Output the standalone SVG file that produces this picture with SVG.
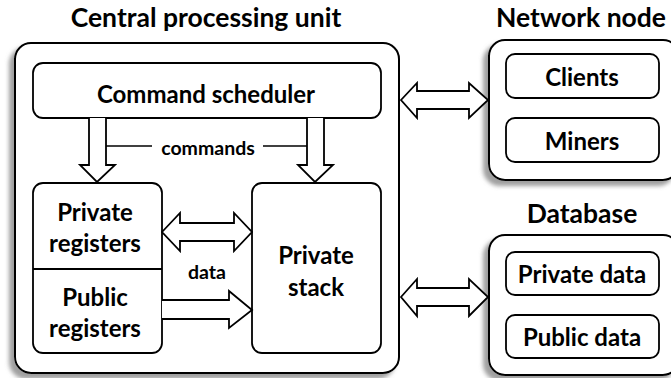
<svg xmlns="http://www.w3.org/2000/svg" width="671" height="378" viewBox="0 0 671 378">
<defs>
<filter id="sh" x="-10%" y="-10%" width="120%" height="125%">
<feDropShadow dx="-5" dy="5" stdDeviation="2" flood-color="#888" flood-opacity="0.8"/>
</filter>
</defs>
<style>
text{font-family:Lato,"Open Sans","Liberation Sans",sans-serif;font-weight:bold;fill:#000;text-anchor:middle;dominant-baseline:central}
.outer{fill:#fff;stroke:#000;stroke-width:2;filter:url(#sh)}
.box{fill:#fff;stroke:#000;stroke-width:1.8}
.arr{fill:#fff;stroke:#000;stroke-width:1.8;stroke-linejoin:miter}
.ln{stroke:#000;stroke-width:1.5;fill:none}
.t1{font-size:26.5px}
.t2{font-size:24px}
.t3{font-size:19.5px}
</style>
<text class="t1" x="206" y="17">Central processing unit</text>
<text class="t1" x="581" y="17">Network node</text>
<text class="t1" x="582" y="213">Database</text>
<g id="cpu">
<rect class="outer" x="15" y="43" width="384" height="330" rx="16"/>
</g>
<g id="scheduler">
<rect class="box" x="33" y="63" width="348" height="55" rx="10"/>
<text class="t2" x="206" y="93">Command scheduler</text>
</g>
<g id="registers">
<rect class="box" x="33" y="183" width="129" height="170" rx="10"/>
<line class="ln" x1="33" y1="269" x2="162" y2="269" style="stroke-width:1.8"/>
<text class="t2" x="95" y="211">Private</text>
<text class="t2" x="95" y="242">registers</text>
<text class="t2" x="95" y="296">Public</text>
<text class="t2" x="95" y="327">registers</text>
</g>
<g id="stack">
<rect class="box" x="252" y="183" width="129" height="170" rx="10"/>
<text class="t2" x="316" y="254">Private</text>
<text class="t2" x="316" y="286">stack</text>
</g>
<g id="network">
<rect class="outer" x="489" y="40" width="190" height="140" rx="16"/>
<rect class="box" x="506" y="54" width="153" height="44" rx="9"/>
<text class="t2" x="582" y="76">Clients</text>
<rect class="box" x="506" y="118" width="153" height="44" rx="9"/>
<text class="t2" x="582" y="140">Miners</text>
</g>
<g id="database">
<rect class="outer" x="489" y="235" width="190" height="140" rx="16"/>
<rect class="box" x="506" y="252" width="153" height="43" rx="9"/>
<text class="t2" x="582" y="273">Private data</text>
<rect class="box" x="506" y="315" width="153" height="43" rx="9"/>
<text class="t2" x="582" y="336">Public data</text>
</g>
<g id="connectors">
<path class="arr" d="M89,118 V165 H80 L97,182 L115,165 H106 V118"/>
<path class="arr" d="M307,118 V165 H298 L315,182 L333,165 H324 V118"/>
<line class="ln" x1="106" y1="146" x2="152" y2="146"/>
<line class="ln" x1="263" y1="146" x2="307" y2="146"/>
<text class="t3" x="208" y="147">commands</text>
<path class="arr" d="M162,232 L180,213 V223 H234 V213 L252,232 L234,251 V241 H180 V251 Z"/>
<text class="t3" x="207" y="271">data</text>
<path class="arr" d="M162,300 H229 V291 L252,310 L229,328 V319 H162"/>
<path class="arr" d="M401,100 L417,83 V91 H469 V83 L488,100 L469,118 V109 H417 V118 Z"/>
<path class="arr" d="M401,297 L417,279 V288 H469 V279 L488,297 L469,316 V306 H417 V316 Z"/>
</g>
</svg>
